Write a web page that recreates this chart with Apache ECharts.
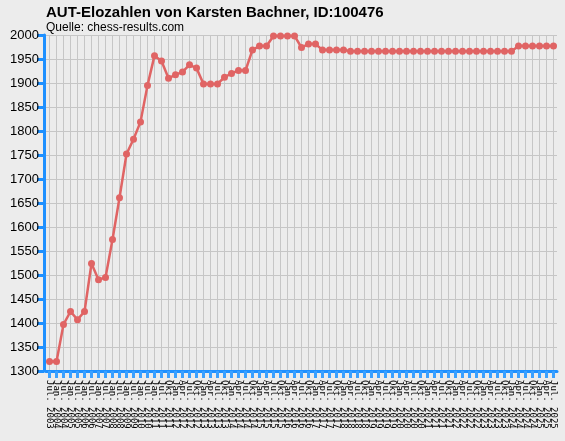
<!DOCTYPE html>
<html>
<head>
<meta charset="utf-8">
<script src="https://cdn.jsdelivr.net/npm/echarts@6/dist/echarts.min.js"></script>
<style>
html,body{margin:0;padding:0;background:#ececec;}
#c{width:565px;height:441px;}
</style>
</head>
<body>
<div id="c"></div>
<script>
// Tick labels (rating list dates)
var semiYears = ["Jul. 2003","Jan. 2004","Jul. 2004","Jan. 2005","Jul. 2005","Jan. 2006","Jul. 2006","Jan. 2007","Jul. 2007","Jan. 2008","Jul. 2008","Jan. 2009","Jul. 2009","Jan. 2010","Jul. 2010","Jan. 2011","Jul. 2011"];
var quarterly = ["Okt. 2011",
 "Jan. 2012","Apr. 2012","Jul. 2012","Okt. 2012",
 "Jan. 2013","Apr. 2013","Jul. 2013","Okt. 2013",
 "Jan. 2014","Apr. 2014","Jul. 2014","Okt. 2014",
 "Jan. 2015","Apr. 2015","Jul. 2015","Okt. 2015",
 "Jan. 2016","Apr. 2016","Jul. 2016","Okt. 2016",
 "Jan. 2017","Apr. 2017","Jul. 2017","Okt. 2017",
 "Jan. 2018","Apr. 2018","Jul. 2018","Okt. 2018",
 "Jan. 2019","Apr. 2019","Jul. 2019","Okt. 2019",
 "Jan. 2020","Apr. 2020","Jul. 2020","Okt. 2020",
 "Jan. 2021","Apr. 2021","Jul. 2021","Okt. 2021",
 "Jan. 2022","Apr. 2022","Jul. 2022","Okt. 2022",
 "Jan. 2023","Apr. 2023","Jul. 2023","Okt. 2023",
 "Jan. 2024","Apr. 2024","Jul. 2024","Okt. 2024",
 "Jan. 2025","Apr. 2025","Jul. 2025"];
var categories = semiYears.concat(quarterly);

// Elo values
var elo = [1320,1320,1397,1424,1407,1424,1524,1490,1495,1574,
           1661,1752,1783,1819,1895,1957,1946,1910,1917,1923,
           1938,1931,1898,1898,1898,1912,1920,1926,1926,1969,
           1977,1977,1998,1998,1998,1998,1974,1981,1981,1969,
           1969,1969,1969,1966,1966,1966,1966,1966,1966,1966,
           1966,1966,1966,1966,1966,1966,1966,1966,1966,1966,
           1966,1966,1966,1966,1966,1966,1966,1977,1977,1977,
           1977,1977,1977];

var yTicks = {min:1300, max:2000, step:50};

var chart = echarts.init(document.getElementById('c'), null, {renderer:'canvas'});
chart.setOption({
  backgroundColor:'#ececec',
  animation:false,
  title:{
    text:'AUT-Elozahlen von Karsten Bachner, ID:100476',
    subtext:'Quelle: chess-results.com',
    left:41, top:0, itemGap:2,
    textStyle:{fontFamily:'Liberation Sans, Arial, sans-serif', fontSize:15, fontWeight:'bold', color:'#000'},
    subtextStyle:{fontFamily:'Liberation Sans, Arial, sans-serif', fontSize:12, color:'#000'}
  },
  grid:{left:46, right:8, top:35, bottom:70, containLabel:false},
  xAxis:{
    type:'category',
    data:categories,
    boundaryGap:true,
    axisLine:{show:true, lineStyle:{color:'#1e90ff', width:3}},
    axisTick:{show:true, alignWithLabel:true, interval:0, length:7, lineStyle:{color:'#3aa0ff', width:3}},
    axisLabel:{interval:0, rotate:-90, fontSize:9, fontFamily:'DejaVu Sans Mono, monospace', color:'#000', margin:9},
    splitLine:{show:false}
  },
  yAxis:{
    type:'value',
    min:yTicks.min, max:yTicks.max, interval:yTicks.step,
    offset:2,
    axisLine:{show:true, lineStyle:{color:'#1e90ff', width:3}},
    axisTick:{show:true, length:7, lineStyle:{color:'#1e90ff', width:3}},
    axisLabel:{fontSize:13, fontFamily:'Liberation Sans, Arial, sans-serif', color:'#000', margin:5,
      formatter:function(v){return String(v);}},
    splitLine:{show:true, lineStyle:{color:'#c6c6c6', width:1}}
  },
  series:[{
    type:'line',
    data:[],
    z:0,
    silent:true,
    markLine:{
      z:0,
      silent:true,
      symbol:['none','none'],
      label:{show:false},
      lineStyle:{color:'#c6c6c6', width:1, type:'solid'},
      data:categories.map(function(c){return {xAxis:c};})
    }
  },{
    type:'line',
    data:elo,
    z:3,
    symbol:'circle',
    symbolSize:7,
    lineStyle:{color:'#e06464', width:2.5},
    itemStyle:{color:'#e06464'}
  }]
});
</script>
</body>
</html>
